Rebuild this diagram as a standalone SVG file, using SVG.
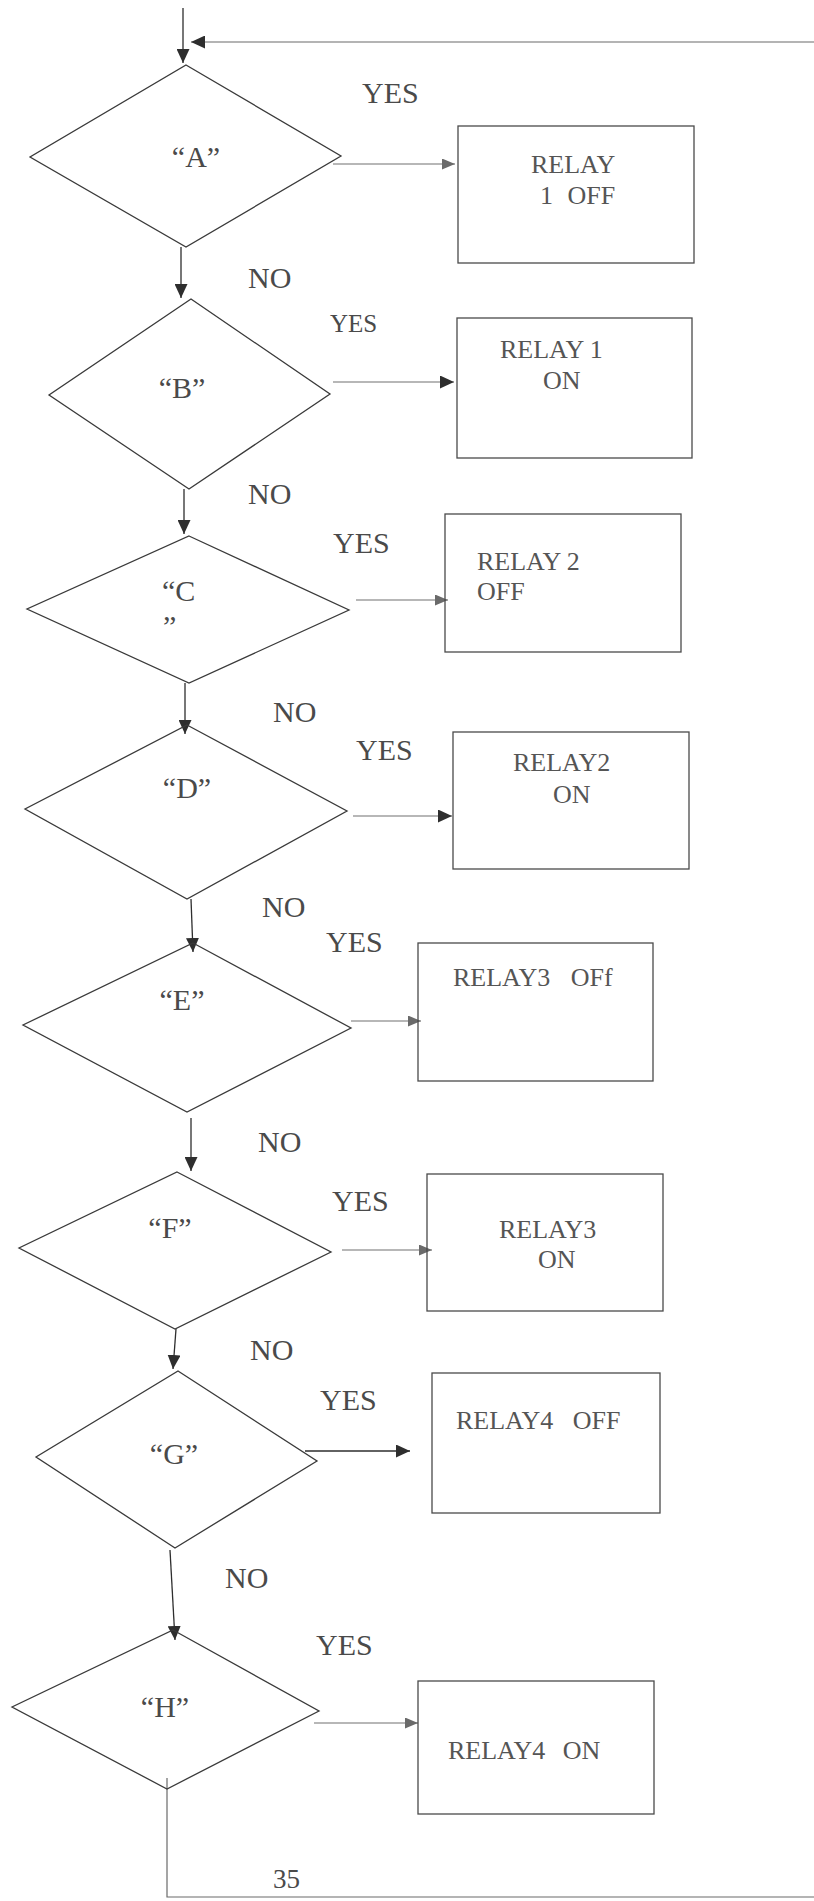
<svg xmlns="http://www.w3.org/2000/svg" width="814" height="1901" viewBox="0 0 814 1901">
  <style>
    .bg { fill: #ffffff; }
    .decision { fill: none; stroke: #3a3a3a; stroke-width: 1.3; }
    .action { fill: none; stroke: #4a4a4a; stroke-width: 1.3; }
    .flow { fill: none; stroke: #2e2e2e; stroke-width: 1.3; }
    .branch { fill: none; stroke: #707070; stroke-width: 1.2; }
    .loop { fill: none; stroke: #6a6a6a; stroke-width: 1.2; }
    .cond { font-family: "Liberation Serif", "Times New Roman", serif; font-size: 30px; fill: #4a4a4a; text-anchor: middle; }
    .tag { font-family: "Liberation Serif", "Times New Roman", serif; font-size: 30px; fill: #4a4a4a; }
    .relay { font-family: "Liberation Serif", "Times New Roman", serif; font-size: 26px; fill: #555555; }
  </style>
  <defs>
    <marker id="head-dark" markerUnits="userSpaceOnUse" markerWidth="14" markerHeight="13" refX="14" refY="6.5" orient="auto">
      <path d="M0,0 L14,6.5 L0,13 z" fill="#2e2e2e"/>
    </marker>
    <marker id="head-grey" markerUnits="userSpaceOnUse" markerWidth="13" markerHeight="11" refX="13" refY="5.5" orient="auto">
      <path d="M0,0 L13,5.5 L0,11 z" fill="#6a6a6a"/>
    </marker>
  </defs>

  <rect class="bg" x="0" y="0" width="814" height="1901"/>

  <!-- flow lines -->
  <g id="connectors">
    <path class="flow" d="M183,8 V63" marker-end="url(#head-dark)"/>
    <path class="loop" d="M814,42 H191" marker-end="url(#head-dark)"/>

    <path class="branch" d="M333,164 H455" marker-end="url(#head-grey)"/>
    <path class="flow" d="M181,247 V298" marker-end="url(#head-dark)"/>

    <path class="branch" d="M333,382 H454" marker-end="url(#head-dark)"/>
    <path class="flow" d="M184,489 V534" marker-end="url(#head-dark)"/>

    <path class="branch" d="M356,600 H448" marker-end="url(#head-grey)"/>
    <path class="flow" d="M185,683 V734" marker-end="url(#head-dark)"/>

    <path class="branch" d="M353,816 H452" marker-end="url(#head-dark)"/>
    <path class="flow" d="M191,899 L193,952" marker-end="url(#head-dark)"/>

    <path class="branch" d="M351,1021 H421" marker-end="url(#head-grey)"/>
    <path class="flow" d="M191,1118 V1171" marker-end="url(#head-dark)"/>

    <path class="branch" d="M342,1250 H432" marker-end="url(#head-grey)"/>
    <path class="flow" d="M176,1329 L173,1369" marker-end="url(#head-dark)"/>

    <path class="flow" d="M305,1451 H410" marker-end="url(#head-dark)"/>
    <path class="flow" d="M170,1550 L175,1640" marker-end="url(#head-dark)"/>

    <path class="branch" d="M314,1723 H418" marker-end="url(#head-grey)"/>
    <path class="loop" d="M167,1778 V1897 H814"/>
  </g>

  <!-- branch labels -->
  <g id="branch-labels">
    <text class="tag" x="362" y="103">YES</text>
    <text class="tag" x="248" y="288">NO</text>
    <text class="tag" x="330" y="332" style="font-size:25px">YES</text>
    <text class="tag" x="248" y="504">NO</text>
    <text class="tag" x="333" y="553">YES</text>
    <text class="tag" x="273" y="722">NO</text>
    <text class="tag" x="356" y="760">YES</text>
    <text class="tag" x="262" y="917">NO</text>
    <text class="tag" x="326" y="952">YES</text>
    <text class="tag" x="258" y="1152">NO</text>
    <text class="tag" x="332" y="1211">YES</text>
    <text class="tag" x="250" y="1360">NO</text>
    <text class="tag" x="320" y="1410">YES</text>
    <text class="tag" x="225" y="1588">NO</text>
    <text class="tag" x="316" y="1655">YES</text>
    <text class="tag" x="273" y="1888" style="font-size:27px">35</text>
  </g>

  <!-- decisions -->
  <g id="decision-a">
    <polygon class="decision" points="186,65 341,156 186,247 30,157"/>
    <text class="cond" x="196" y="167">“A”</text>
  </g>
  <g id="decision-b">
    <polygon class="decision" points="191,299 330,394 189,489 49,395"/>
    <text class="cond" x="182" y="398">“B”</text>
  </g>
  <g id="decision-c">
    <polygon class="decision" points="189,536 349,610 189,683 27,609"/>
    <text class="tag" x="162" y="601">“C</text>
    <text class="tag" x="163" y="636">”</text>
  </g>
  <g id="decision-d">
    <polygon class="decision" points="187,725 347,811 187,899 25,809"/>
    <text class="cond" x="187" y="798">“D”</text>
  </g>
  <g id="decision-e">
    <polygon class="decision" points="193,943 351,1028 187,1112 23,1025"/>
    <text class="cond" x="182" y="1010">“E”</text>
  </g>
  <g id="decision-f">
    <polygon class="decision" points="177,1172 331,1252 175,1329 19,1248"/>
    <text class="cond" x="170" y="1238">“F”</text>
  </g>
  <g id="decision-g">
    <polygon class="decision" points="178,1371 317,1461 175,1548 36,1457"/>
    <text class="cond" x="174" y="1464">“G”</text>
  </g>
  <g id="decision-h">
    <polygon class="decision" points="173,1630 319,1711 167,1789 12,1707"/>
    <text class="cond" x="165" y="1717">“H”</text>
  </g>

  <!-- relay actions -->
  <g id="relay-1-off">
    <rect class="action" x="458" y="126" width="236" height="137"/>
    <text class="relay" x="531" y="173">RELAY</text>
    <text class="relay" x="540" y="204" word-spacing="8">1 OFF</text>
  </g>
  <g id="relay-1-on">
    <rect class="action" x="457" y="318" width="235" height="140"/>
    <text class="relay" x="500" y="358">RELAY 1</text>
    <text class="relay" x="543" y="389">ON</text>
  </g>
  <g id="relay-2-off">
    <rect class="action" x="445" y="514" width="236" height="138"/>
    <text class="relay" x="477" y="570">RELAY 2</text>
    <text class="relay" x="477" y="600">OFF</text>
  </g>
  <g id="relay-2-on">
    <rect class="action" x="453" y="732" width="236" height="137"/>
    <text class="relay" x="513" y="771">RELAY2</text>
    <text class="relay" x="553" y="803">ON</text>
  </g>
  <g id="relay-3-off">
    <rect class="action" x="418" y="943" width="235" height="138"/>
    <text class="relay" x="453" y="986" word-spacing="14">RELAY3 OFf</text>
  </g>
  <g id="relay-3-on">
    <rect class="action" x="427" y="1174" width="236" height="137"/>
    <text class="relay" x="499" y="1238">RELAY3</text>
    <text class="relay" x="538" y="1268">ON</text>
  </g>
  <g id="relay-4-off">
    <rect class="action" x="432" y="1373" width="228" height="140"/>
    <text class="relay" x="456" y="1429" word-spacing="13">RELAY4 OFF</text>
  </g>
  <g id="relay-4-on">
    <rect class="action" x="418" y="1681" width="236" height="133"/>
    <text class="relay" x="448" y="1759" word-spacing="11">RELAY4 ON</text>
  </g>
</svg>
